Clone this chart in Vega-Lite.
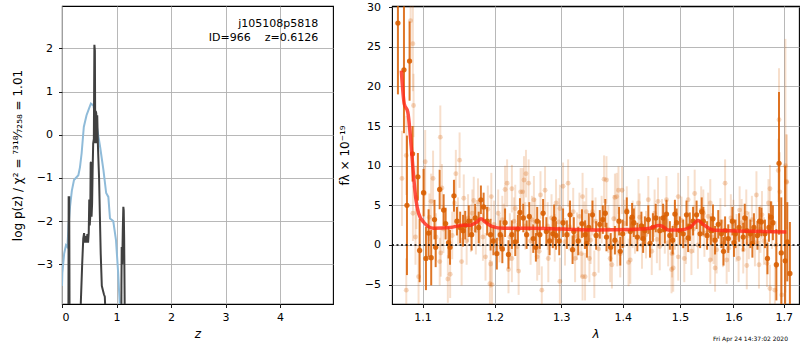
{
  "$schema": "https://vega.github.io/schema/vega-lite/v6.json",
  "background": "white",
  "padding": {"left": 10, "top": 0, "right": 0, "bottom": 0},
  "bounds": "flush",
  "spacing": 59,
  "config": {
    "font": "DejaVu Sans",
    "view": {"stroke": "black", "strokeWidth": 1.1},
    "axis": {
      "domain": false, "tickColor": "black", "tickSize": 3.5, "tickWidth": 0.9,
      "labelFontSize": 11, "labelColor": "black", "labelFont": "DejaVu Sans",
      "titleFontSize": 12, "titleColor": "black", "titleFontWeight": "normal", "titleFont": "DejaVu Sans",
      "grid": true, "gridColor": "#b0b0b0", "gridWidth": 0.9
    }
  },
  "datasets": {
    "blue": [{"z":0,"p":-3.5},{"z":0.006,"p":-3.2},{"z":0.04,"p":-2.75},{"z":0.073,"p":-2.56},{"z":0.1,"p":-2.6},{"z":0.12,"p":-2.1},{"z":0.147,"p":-1.67},{"z":0.18,"p":-1.3},{"z":0.22,"p":-1.05},{"z":0.3,"p":-0.94},{"z":0.33,"p":-0.75},{"z":0.36,"p":-0.43},{"z":0.4,"p":0.18},{"z":0.45,"p":0.45},{"z":0.5,"p":0.62},{"z":0.53,"p":0.72},{"z":0.575,"p":0.68},{"z":0.61,"p":0.45},{"z":0.64,"p":0.18},{"z":0.7,"p":-0.29},{"z":0.76,"p":-0.82},{"z":0.81,"p":-1.35},{"z":0.85,"p":-1.44},{"z":0.88,"p":-1.94},{"z":0.94,"p":-2.0},{"z":0.99,"p":-2.44},{"z":1.03,"p":-3.2},{"z":1.06,"p":-3.95},{"z":1.1,"p":-5}],
    "pz": [{"z":0,"p":-8},{"z":0.112,"p":-8},{"z":0.118,"p":-3.9},{"z":0.122,"p":-1.45},{"z":0.132,"p":-1.45},{"z":0.138,"p":-3.9},{"z":0.145,"p":-8},{"z":0.33,"p":-8},{"z":0.345,"p":-3.9},{"z":0.37,"p":-3.0},{"z":0.39,"p":-2.4},{"z":0.405,"p":-2.28},{"z":0.42,"p":-2.5},{"z":0.435,"p":-2.35},{"z":0.45,"p":-2.5},{"z":0.465,"p":-2.3},{"z":0.478,"p":-2.5},{"z":0.49,"p":-2.28},{"z":0.5,"p":-1.5},{"z":0.508,"p":-2.1},{"z":0.518,"p":-1.9},{"z":0.526,"p":-0.65},{"z":0.534,"p":-0.63},{"z":0.542,"p":-1.9},{"z":0.552,"p":-1.6},{"z":0.562,"p":-0.8},{"z":0.572,"p":-0.2},{"z":0.584,"p":-0.1},{"z":0.594,"p":2.08},{"z":0.603,"p":1.95},{"z":0.61,"p":-0.2},{"z":0.618,"p":0.55},{"z":0.628,"p":0.5},{"z":0.636,"p":-0.2},{"z":0.646,"p":0.45},{"z":0.66,"p":-0.3},{"z":0.68,"p":-1.0},{"z":0.695,"p":-1.9},{"z":0.71,"p":-2.75},{"z":0.73,"p":-3.5},{"z":0.75,"p":-3.6},{"z":0.77,"p":-3.7},{"z":0.785,"p":-3.75},{"z":0.8,"p":-4.2},{"z":0.82,"p":-8},{"z":1.08,"p":-8},{"z":1.09,"p":-3.5},{"z":1.095,"p":-2.6},{"z":1.105,"p":-3.0},{"z":1.115,"p":-2.2},{"z":1.125,"p":-1.67},{"z":1.132,"p":-1.75},{"z":1.14,"p":-2.4},{"z":1.15,"p":-4},{"z":1.16,"p":-8},{"z":4.97,"p":-8}],
    "model": [{"l":1.0722,"f":22.0},{"l":1.076,"f":17.8},{"l":1.0805,"f":16.8},{"l":1.0851,"f":12.4},{"l":1.0882,"f":8.6},{"l":1.0913,"f":5.7},{"l":1.0947,"f":4.0},{"l":1.1013,"f":2.9},{"l":1.1146,"f":2.1},{"l":1.1372,"f":2.2},{"l":1.1556,"f":2.5},{"l":1.165,"f":2.5},{"l":1.1745,"f":2.9},{"l":1.1802,"f":3.3},{"l":1.1863,"f":2.9},{"l":1.1958,"f":2.35},{"l":1.2126,"f":2.1},{"l":1.2524,"f":2.1},{"l":1.3035,"f":2.0},{"l":1.3569,"f":1.9},{"l":1.4122,"f":1.95},{"l":1.4466,"f":2.1},{"l":1.4612,"f":2.45},{"l":1.4672,"f":2.4},{"l":1.4789,"f":1.9},{"l":1.5,"f":1.9},{"l":1.5181,"f":2.2},{"l":1.5334,"f":3.1},{"l":1.5427,"f":2.6},{"l":1.5614,"f":1.9},{"l":1.593,"f":1.8},{"l":1.6581,"f":1.7},{"l":1.7056,"f":1.65}],
    "dark": [
      {"l":1.0678,"f":28,"e":9},{"l":1.0756,"f":22.1,"e":8},{"l":1.0795,"f":5.0,"e":8.8},{"l":1.0829,"f":23.2,"e":5},{"l":1.0868,"f":11.5,"e":3.5},{"l":1.0938,"f":8.6,"e":3},{"l":1.0961,"f":-0.7,"e":4},{"l":1.1013,"f":6.6,"e":3},{"l":1.1045,"f":-1.7,"e":4},{"l":1.108,"f":1.5,"e":3},{"l":1.1115,"f":-1.6,"e":3.5},{"l":1.1159,"f":3.2,"e":2.5},{"l":1.1175,"f":-0.3,"e":2.5},{"l":1.1229,"f":7.0,"e":2.5},{"l":1.1283,"f":4.4,"e":2},{"l":1.131,"f":2.7,"e":2},{"l":1.135,"f":0.3,"e":2},{"l":1.137,"f":-0.3,"e":2.2},{"l":1.1424,"f":6.2,"e":2},{"l":1.1465,"f":3.0,"e":1.8},{"l":1.151,"f":2.2,"e":2},{"l":1.155,"f":1.8,"e":2},{"l":1.158,"f":2.5,"e":1.8},{"l":1.163,"f":3.0,"e":2},{"l":1.167,"f":1.3,"e":2},{"l":1.172,"f":3.4,"e":1.8},{"l":1.177,"f":2.2,"e":2},{"l":1.1801,"f":5.7,"e":1.8},{"l":1.184,"f":4.8,"e":1.8},{"l":1.189,"f":3.0,"e":1.8},{"l":1.194,"f":1.3,"e":2},{"l":1.198,"f":0.5,"e":1.8},{"l":1.203,"f":-1.1,"e":2},{"l":1.208,"f":1.3,"e":1.8},{"l":1.211,"f":-0.5,"e":1.8},{"l":1.215,"f":2.8,"e":1.8},{"l":1.22,"f":-1.2,"e":1.8},{"l":1.225,"f":1.3,"e":1.8},{"l":1.23,"f":0.4,"e":1.8},{"l":1.234,"f":2.0,"e":1.8},{"l":1.237,"f":4.1,"e":1.8},{"l":1.242,"f":3.4,"e":1.8},{"l":1.247,"f":1.3,"e":1.8},{"l":1.251,"f":3.6,"e":1.8},{"l":1.257,"f":0.8,"e":1.8},{"l":1.261,"f":-0.3,"e":1.8},{"l":1.263,"f":3.0,"e":1.8},{"l":1.267,"f":1.3,"e":1.8},{"l":1.272,"f":4.0,"e":1.8},{"l":1.277,"f":1.7,"e":1.8},{"l":1.282,"f":0.5,"e":1.8},{"l":1.287,"f":1.4,"e":1.8},{"l":1.289,"f":3.3,"e":1.8},{"l":1.292,"f":1.2,"e":1.8},{"l":1.297,"f":0.5,"e":1.8},{"l":1.303,"f":2.8,"e":1.8},{"l":1.309,"f":1.3,"e":1.8},{"l":1.314,"f":3.8,"e":1.8},{"l":1.318,"f":-0.6,"e":1.8},{"l":1.32,"f":1.7,"e":1.8},{"l":1.327,"f":0.5,"e":1.8},{"l":1.333,"f":2.7,"e":1.8},{"l":1.338,"f":1.3,"e":1.8},{"l":1.341,"f":0.2,"e":1.8},{"l":1.344,"f":2.2,"e":1.8},{"l":1.35,"f":3.8,"e":1.8},{"l":1.356,"f":1.2,"e":1.8},{"l":1.362,"f":2.6,"e":1.8},{"l":1.367,"f":3.2,"e":1.8},{"l":1.371,"f":4.0,"e":1.8},{"l":1.373,"f":1.0,"e":1.8},{"l":1.38,"f":-0.3,"e":1.8},{"l":1.387,"f":0.6,"e":1.8},{"l":1.394,"f":3.0,"e":1.8},{"l":1.396,"f":-0.8,"e":1.8},{"l":1.4,"f":1.4,"e":1.8},{"l":1.407,"f":4.2,"e":1.8},{"l":1.413,"f":1.7,"e":1.8},{"l":1.416,"f":3.5,"e":1.8},{"l":1.419,"f":2.8,"e":1.8},{"l":1.425,"f":1.0,"e":1.8},{"l":1.432,"f":2.4,"e":1.8},{"l":1.435,"f":0.8,"e":1.8},{"l":1.438,"f":1.8,"e":1.8},{"l":1.444,"f":3.2,"e":1.8},{"l":1.447,"f":0.2,"e":1.8},{"l":1.452,"f":2.2,"e":1.8},{"l":1.457,"f":3.4,"e":1.8},{"l":1.464,"f":1.8,"e":1.8},{"l":1.47,"f":3.4,"e":1.8},{"l":1.473,"f":2.0,"e":1.8},{"l":1.476,"f":3.9,"e":1.8},{"l":1.482,"f":1.2,"e":1.8},{"l":1.487,"f":0.6,"e":1.8},{"l":1.491,"f":3.9,"e":1.8},{"l":1.494,"f":2.8,"e":1.8},{"l":1.5,"f":1.8,"e":1.8},{"l":1.506,"f":1.4,"e":1.8},{"l":1.512,"f":3.8,"e":1.8},{"l":1.515,"f":0.9,"e":1.8},{"l":1.518,"f":2.3,"e":1.8},{"l":1.524,"f":3.0,"e":1.8},{"l":1.5305,"f":3.8,"e":1.8},{"l":1.537,"f":1.4,"e":1.8},{"l":1.54,"f":4.2,"e":1.8},{"l":1.543,"f":3.0,"e":1.8},{"l":1.55,"f":1.2,"e":1.8},{"l":1.557,"f":1.8,"e":1.8},{"l":1.561,"f":3.3,"e":1.8},{"l":1.565,"f":0.6,"e":1.8},{"l":1.571,"f":2.6,"e":1.8},{"l":1.577,"f":1.4,"e":1.8},{"l":1.581,"f":-0.8,"e":1.8},{"l":1.584,"f":1.8,"e":1.8},{"l":1.59,"f":0.8,"e":1.8},{"l":1.598,"f":3.0,"e":1.8},{"l":1.601,"f":0.3,"e":1.8},{"l":1.604,"f":1.4,"e":1.8},{"l":1.611,"f":2.2,"e":1.8},{"l":1.619,"f":1.0,"e":1.8},{"l":1.622,"f":3.4,"e":1.8},{"l":1.626,"f":1.8,"e":1.8},{"l":1.633,"f":1.4,"e":1.8},{"l":1.637,"f":0.2,"e":1.8},{"l":1.64,"f":2.2,"e":1.8},{"l":1.647,"f":1.2,"e":1.8},{"l":1.651,"f":3.0,"e":1.8},{"l":1.655,"f":2.9,"e":1.8},{"l":1.662,"f":1.4,"e":1.8},{"l":1.667,"f":-1.7,"e":2},{"l":1.67,"f":2.2,"e":1.8},{"l":1.674,"f":3.5,"e":2},{"l":1.678,"f":2.8,"e":2.2},{"l":1.685,"f":-2.5,"e":4.5},{"l":1.6904,"f":10.3,"e":9},{"l":1.695,"f":-1.0,"e":7},{"l":1.7029,"f":-2.0,"e":12},{"l":1.7073,"f":0.4,"e":5},{"l":1.7127,"f":-3.6,"e":6.5}
    ],
    "light": [
      {"l":1.073,"f":8.4,"e":6},{"l":1.0786,"f":-5.7,"e":4},{"l":1.0786,"f":11.3,"e":5},{"l":1.0842,"f":28.3,"e":5},{"l":1.0872,"f":25.4,"e":6},{"l":1.0881,"f":17.6,"e":4},{"l":1.0873,"f":4.0,"e":3.5},{"l":1.0906,"f":1.0,"e":3.5},{"l":1.0947,"f":-4.0,"e":4},{"l":1.0918,"f":6.0,"e":4},{"l":1.1035,"f":10.5,"e":4},{"l":1.1025,"f":6.5,"e":3.5},{"l":1.1114,"f":5.5,"e":3.5},{"l":1.109,"f":3.5,"e":3},{"l":1.114,"f":8.4,"e":3.5},{"l":1.118,"f":1.0,"e":3},{"l":1.1238,"f":13.6,"e":4},{"l":1.126,"f":7.2,"e":3},{"l":1.1245,"f":-1.0,"e":3},{"l":1.123,"f":-2.1,"e":3},{"l":1.128,"f":2.0,"e":3},{"l":1.1372,"f":-3.7,"e":3},{"l":1.134,"f":-4.3,"e":3},{"l":1.14,"f":1.2,"e":3},{"l":1.1502,"f":10.7,"e":3.5},{"l":1.145,"f":9.0,"e":3},{"l":1.143,"f":5.3,"e":3},{"l":1.148,"f":3.0,"e":3},{"l":1.153,"f":-2.1,"e":3},{"l":1.156,"f":5.9,"e":3},{"l":1.16,"f":0.5,"e":3},{"l":1.162,"f":3.4,"e":3},{"l":1.166,"f":2.1,"e":3},{"l":1.168,"f":4.0,"e":3},{"l":1.17,"f":5.6,"e":3},{"l":1.173,"f":1.8,"e":3},{"l":1.176,"f":5.4,"e":3},{"l":1.179,"f":2.8,"e":3},{"l":1.183,"f":1.0,"e":3},{"l":1.1867,"f":-1.5,"e":3},{"l":1.193,"f":-4.9,"e":3},{"l":1.194,"f":-2.4,"e":3},{"l":1.19,"f":4.5,"e":3},{"l":1.195,"f":6.1,"e":3},{"l":1.196,"f":-5.0,"e":3},{"l":1.199,"f":2.6,"e":3},{"l":1.205,"f":4.0,"e":3},{"l":1.207,"f":0.8,"e":3},{"l":1.211,"f":3.2,"e":3},{"l":1.213,"f":2.2,"e":3},{"l":1.215,"f":7.0,"e":3},{"l":1.218,"f":7.8,"e":3},{"l":1.22,"f":-3.1,"e":3},{"l":1.222,"f":1.0,"e":3},{"l":1.225,"f":7.1,"e":3},{"l":1.225,"f":-1.7,"e":3},{"l":1.228,"f":3.0,"e":3},{"l":1.23,"f":4.6,"e":3},{"l":1.233,"f":-0.2,"e":3},{"l":1.235,"f":-3.3,"e":3},{"l":1.238,"f":6.7,"e":3},{"l":1.241,"f":6.7,"e":3},{"l":1.243,"f":8.2,"e":3},{"l":1.245,"f":2.4,"e":3},{"l":1.246,"f":9.0,"e":3},{"l":1.25,"f":7.8,"e":3},{"l":1.253,"f":0.5,"e":3},{"l":1.255,"f":3.2,"e":3},{"l":1.258,"f":5.7,"e":3},{"l":1.26,"f":2.9,"e":3},{"l":1.263,"f":-1.5,"e":3},{"l":1.266,"f":-0.8,"e":3},{"l":1.268,"f":6.3,"e":3},{"l":1.27,"f":-5.7,"e":3},{"l":1.275,"f":6.9,"e":3},{"l":1.279,"f":2.4,"e":3},{"l":1.28,"f":-1.7,"e":3},{"l":1.285,"f":3.4,"e":3},{"l":1.29,"f":0.9,"e":3},{"l":1.292,"f":5.3,"e":3},{"l":1.296,"f":2.9,"e":3},{"l":1.298,"f":4.6,"e":3},{"l":1.298,"f":-4.6,"e":3},{"l":1.303,"f":7.4,"e":3},{"l":1.306,"f":0.4,"e":3},{"l":1.311,"f":7.8,"e":3},{"l":1.313,"f":2.3,"e":3},{"l":1.319,"f":4.2,"e":3},{"l":1.322,"f":-1.7,"e":3},{"l":1.325,"f":1.1,"e":3},{"l":1.329,"f":3.6,"e":3},{"l":1.332,"f":-1.1,"e":3},{"l":1.334,"f":6.1,"e":3},{"l":1.334,"f":-4.0,"e":3},{"l":1.337,"f":2.5,"e":3},{"l":1.338,"f":-4.0,"e":3},{"l":1.34,"f":4.2,"e":3},{"l":1.345,"f":-1.7,"e":3},{"l":1.347,"f":0.6,"e":3},{"l":1.35,"f":4.2,"e":3},{"l":1.353,"f":-3.7,"e":3},{"l":1.355,"f":3.0,"e":3},{"l":1.36,"f":-0.5,"e":3},{"l":1.365,"f":3.2,"e":3},{"l":1.369,"f":8.3,"e":3},{"l":1.373,"f":8.2,"e":3},{"l":1.376,"f":2.0,"e":3},{"l":1.379,"f":-1.7,"e":3},{"l":1.382,"f":-2.5,"e":3},{"l":1.385,"f":3.3,"e":3},{"l":1.387,"f":6.0,"e":3},{"l":1.39,"f":6.1,"e":3},{"l":1.391,"f":0.3,"e":3},{"l":1.393,"f":6.9,"e":3},{"l":1.396,"f":-1.1,"e":3},{"l":1.399,"f":6.9,"e":3},{"l":1.403,"f":2.7,"e":3},{"l":1.407,"f":4.4,"e":3},{"l":1.41,"f":-2.2,"e":3},{"l":1.413,"f":-1.9,"e":3},{"l":1.417,"f":2.6,"e":3},{"l":1.421,"f":1.9,"e":3},{"l":1.427,"f":5.3,"e":3},{"l":1.429,"f":3.5,"e":3},{"l":1.433,"f":0.0,"e":3},{"l":1.44,"f":1.3,"e":3},{"l":1.444,"f":5.7,"e":3},{"l":1.45,"f":-0.8,"e":3},{"l":1.455,"f":4.0,"e":3},{"l":1.459,"f":0.7,"e":3},{"l":1.461,"f":5.5,"e":3},{"l":1.464,"f":-0.2,"e":3},{"l":1.468,"f":2.8,"e":3},{"l":1.473,"f":1.9,"e":3},{"l":1.476,"f":5.7,"e":3},{"l":1.479,"f":0.3,"e":3},{"l":1.485,"f":-3.1,"e":3},{"l":1.486,"f":-1.1,"e":3},{"l":1.488,"f":-2.9,"e":3},{"l":1.491,"f":2.4,"e":3},{"l":1.497,"f":-1.5,"e":3},{"l":1.497,"f":6.1,"e":3},{"l":1.503,"f":3.1,"e":3},{"l":1.508,"f":-1.7,"e":3},{"l":1.511,"f":0.6,"e":3},{"l":1.515,"f":5.7,"e":3},{"l":1.521,"f":-0.8,"e":3},{"l":1.525,"f":2.0,"e":3},{"l":1.527,"f":6.5,"e":3},{"l":1.533,"f":0.0,"e":3},{"l":1.539,"f":4.4,"e":3},{"l":1.543,"f":4.0,"e":3},{"l":1.545,"f":1.5,"e":3},{"l":1.552,"f":3.6,"e":3},{"l":1.556,"f":5.3,"e":3},{"l":1.556,"f":-1.9,"e":3},{"l":1.559,"f":1.0,"e":3},{"l":1.562,"f":0.6,"e":3},{"l":1.565,"f":-2.9,"e":3},{"l":1.568,"f":-0.6,"e":3},{"l":1.575,"f":2.9,"e":3},{"l":1.58,"f":0.2,"e":3},{"l":1.584,"f":7.8,"e":3},{"l":1.587,"f":-1.9,"e":3},{"l":1.591,"f":-0.4,"e":3},{"l":1.595,"f":3.4,"e":3},{"l":1.6,"f":2.7,"e":3},{"l":1.606,"f":0.9,"e":3},{"l":1.61,"f":-1.7,"e":3},{"l":1.612,"f":4.4,"e":3},{"l":1.616,"f":2.8,"e":3},{"l":1.619,"f":-0.6,"e":3},{"l":1.625,"f":4.0,"e":3},{"l":1.626,"f":-2.6,"e":3},{"l":1.63,"f":1.2,"e":3},{"l":1.636,"f":3.2,"e":3},{"l":1.642,"f":0.3,"e":3},{"l":1.645,"f":6.3,"e":3},{"l":1.65,"f":-2.5,"e":3},{"l":1.653,"f":2.0,"e":3},{"l":1.656,"f":3.8,"e":3},{"l":1.66,"f":0.5,"e":3},{"l":1.666,"f":-2.3,"e":3},{"l":1.669,"f":5.3,"e":3},{"l":1.672,"f":7.1,"e":3},{"l":1.672,"f":-5.5,"e":3},{"l":1.676,"f":2.5,"e":3},{"l":1.682,"f":-5.7,"e":3},{"l":1.684,"f":0.0,"e":3},{"l":1.689,"f":9.4,"e":4},{"l":1.6904,"f":15.8,"e":6.5},{"l":1.692,"f":6.7,"e":5},{"l":1.696,"f":-6.3,"e":4},{"l":1.7035,"f":10,"e":16},{"l":1.7056,"f":8.0,"e":6},{"l":1.706,"f":7.9,"e":6}
    ]
  },
  "hconcat": [
    {
      "width": 271,
      "height": 298,
      "layer": [
        {
          "data": {"name": "blue"},
          "mark": {"type": "line", "color": "#8fbbd9", "strokeWidth": 2, "clip": true},
          "encoding": {
            "x": {"field": "z", "type": "quantitative", "scale": {"domain": [0, 4.97], "nice": false, "zero": false},
                  "axis": {"values": [0, 1, 2, 3, 4], "title": "z", "titleFontStyle": "italic", "labelPadding": 4, "titlePadding": 6}},
            "y": {"field": "p", "type": "quantitative", "scale": {"domain": [-3.92, 2.98], "nice": false, "zero": false},
                  "axis": {"values": [-3, -2, -1, 0, 1, 2], "title": "log p(z) / χ² = ⁷³¹⁸⁄₇₂₅₈ = 1.01", "labelPadding": 6, "titlePadding": 12}}
          }
        },
        {
          "data": {"name": "pz"},
          "mark": {"type": "line", "color": "#404040", "strokeWidth": 2, "clip": true},
          "encoding": {
            "x": {"field": "z", "type": "quantitative", "title": "z"},
            "y": {"field": "p", "type": "quantitative", "title": "log p(z) / χ² = ⁷³¹⁸⁄₇₂₅₈ = 1.01"}
          }
        },
        {
          "data": {"values": [{}]},
          "mark": {"type": "text", "align": "right", "baseline": "middle", "fontSize": 11, "color": "black"},
          "encoding": {"x": {"datum": 4.7}, "y": {"datum": 2.57}, "text": {"value": "j105108p5818"}}
        },
        {
          "data": {"values": [{}]},
          "mark": {"type": "text", "align": "right", "baseline": "middle", "fontSize": 11, "color": "black"},
          "encoding": {"x": {"datum": 4.7}, "y": {"datum": 2.23}, "text": {"value": "ID=966\u00a0\u00a0\u00a0\u00a0z=0.6126"}}
        }
      ]
    },
    {
      "width": 407,
      "height": 298,
      "layer": [
        {
          "data": {"name": "light"},
          "mark": {"type": "errorbar", "color": "#d95f02", "opacity": 0.2, "thickness": 2, "clip": true},
          "encoding": {
            "x": {"field": "l", "type": "quantitative", "scale": {"type": "log", "domain": [1.0602, 1.7316], "nice": false},
                  "axis": {"values": [1.1, 1.2, 1.3, 1.4, 1.5, 1.6, 1.7], "format": ".1f", "title": "λ", "titleFontStyle": "italic", "labelPadding": 4, "titlePadding": 6}},
            "y": {"field": "f", "type": "quantitative", "scale": {"domain": [-7.45, 30.15], "nice": false, "zero": false},
                  "axis": {"values": [-5, 0, 5, 10, 15, 20, 25, 30], "title": "fλ × 10⁻¹⁹", "labelPadding": 8, "titlePadding": 13}},
            "yError": {"field": "e"}
          }
        },
        {
          "data": {"name": "light"},
          "mark": {"type": "circle", "color": "#d95f02", "opacity": 0.25, "size": 24, "clip": true},
          "encoding": {
            "x": {"field": "l", "type": "quantitative", "title": "λ"},
            "y": {"field": "f", "type": "quantitative", "title": "fλ × 10⁻¹⁹"}
          }
        },
        {
          "data": {"name": "dark"},
          "mark": {"type": "errorbar", "color": "#d95f02", "opacity": 0.85, "thickness": 2, "clip": true},
          "encoding": {
            "x": {"field": "l", "type": "quantitative", "title": "λ"},
            "y": {"field": "f", "type": "quantitative", "title": "fλ × 10⁻¹⁹"},
            "yError": {"field": "e"}
          }
        },
        {
          "data": {"name": "dark"},
          "mark": {"type": "circle", "color": "#d95f02", "opacity": 0.9, "size": 28, "clip": true},
          "encoding": {
            "x": {"field": "l", "type": "quantitative", "title": "λ"},
            "y": {"field": "f", "type": "quantitative", "title": "fλ × 10⁻¹⁹"}
          }
        },
        {
          "data": {"name": "model"},
          "mark": {"type": "line", "color": "#ff2a1a", "opacity": 0.82, "strokeWidth": 3.5, "interpolate": "monotone", "clip": true},
          "encoding": {
            "x": {"field": "l", "type": "quantitative", "title": "λ"},
            "y": {"field": "f", "type": "quantitative", "title": "fλ × 10⁻¹⁹"}
          }
        },
        {
          "data": {"values": [{}]},
          "mark": {"type": "rule", "color": "black", "strokeWidth": 1.5, "strokeDash": [2, 2.5]},
          "encoding": {"y": {"datum": 0}}
        },
        {
          "data": {"values": [{}]},
          "mark": {"type": "text", "align": "right", "baseline": "middle", "fontSize": 6, "color": "black"},
          "encoding": {"x": {"datum": 1.7088}, "y": {"datum": -11.9}, "text": {"value": "Fri Apr 24 14:37:02 2020"}}
        }
      ]
    }
  ]
}
